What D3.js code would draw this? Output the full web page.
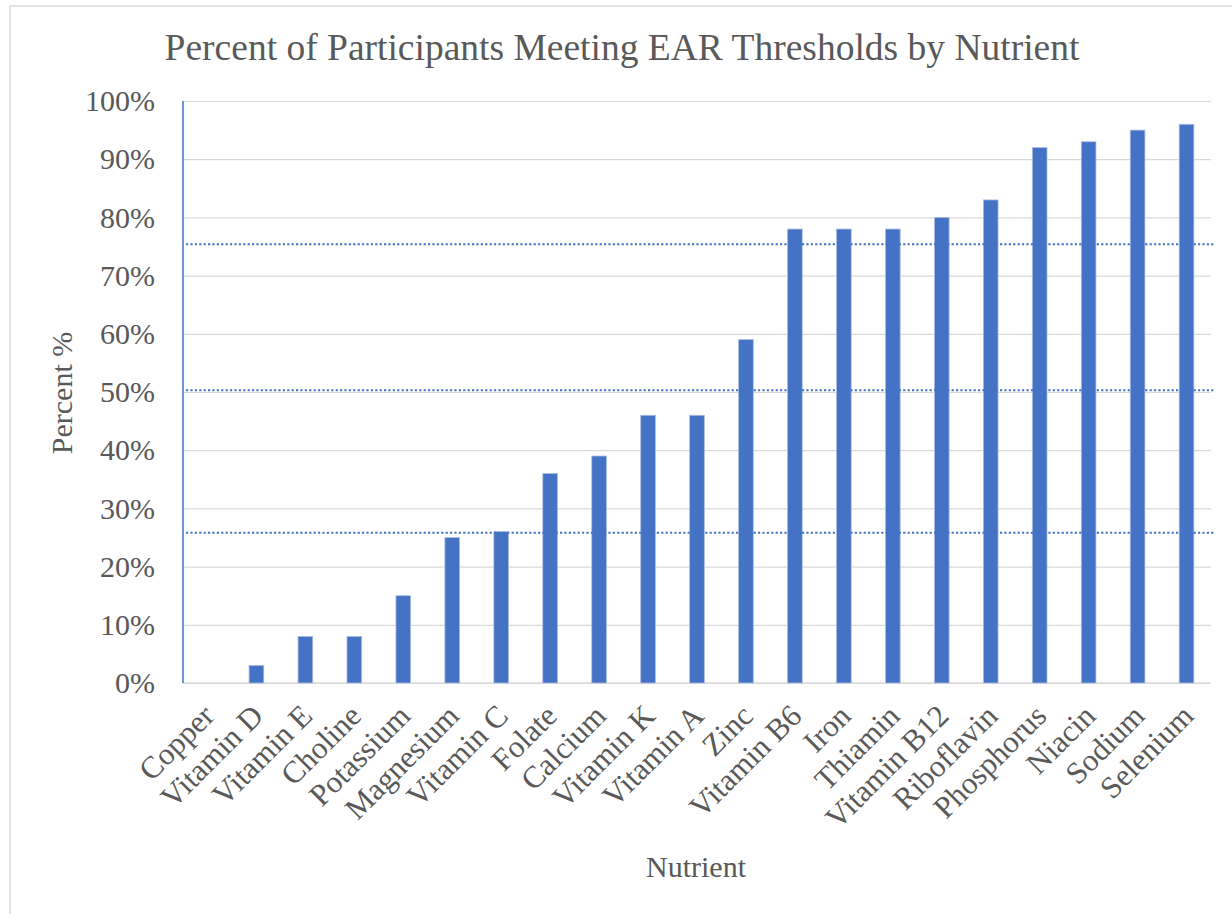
<!DOCTYPE html>
<html>
<head>
<meta charset="utf-8">
<script src="https://cdn.jsdelivr.net/npm/d3@7"></script>
<style>
  html, body { margin: 0; padding: 0; background: #fff; }
  svg { display: block; }
  text { font-family: "Liberation Serif", "Times New Roman", serif; fill: #595959; }
</style>
</head>
<body>
<div id="chart"></div>
<script>
// Percent of participants meeting EAR thresholds, sorted low -> high

const nutrients = ["Copper", "Vitamin D", "Vitamin E", "Choline", "Potassium", "Magnesium",
  "Vitamin C", "Folate", "Calcium", "Vitamin K", "Vitamin A", "Zinc", "Vitamin B6", "Iron",
  "Thiamin", "Vitamin B12", "Riboflavin", "Phosphorus", "Niacin", "Sodium", "Selenium"];
const percents = [0, 3, 8, 8, 15, 25, 26, 36, 39, 46, 46, 59, 78, 78, 78, 80, 83, 92, 93, 95, 96];
const thresholds = [25.8, 50.3, 75.4];   // dotted reference lines
const yTicks = [0, 10, 20, 30, 40, 50, 60, 70, 80, 90, 100];

const width = 1232, height = 914;
const margin = { top: 101, right: 21, bottom: 231, left: 183 };

const svg = d3.select("#chart").append("svg")
  .attr("width", width).attr("height", height);

// outer frame (only top + left edges visible in the source)
svg.append("line").attr("x1", 10).attr("x2", width).attr("y1", 6).attr("y2", 6)
  .attr("stroke", "#d9d9d9").attr("stroke-width", 1.5);
svg.append("line").attr("x1", 10).attr("x2", 10).attr("y1", 6).attr("y2", height)
  .attr("stroke", "#d9d9d9").attr("stroke-width", 1.5);

const x = d3.scaleBand().domain(nutrients)
  .range([margin.left, width - margin.right]).paddingInner(0.7).paddingOuter(0.35);
const y = d3.scaleLinear().domain([0, 100]).range([height - margin.bottom, margin.top]);

// gridlines + y labels
const gY = svg.append("g").attr("transform", `translate(${margin.left},0)`)
  .call(d3.axisLeft(y).tickValues(yTicks).tickFormat(d => d + "%")
    .tickSize(-(width - margin.left - margin.right)).tickPadding(28));
gY.select(".domain").remove();
gY.selectAll(".tick line").attr("stroke", "#d9d9d9").attr("stroke-width", 1.2);
gY.selectAll(".tick text").attr("font-size", 30).style("font-family", "Liberation Serif, serif")
  .attr("fill", "#595959");

// bottom axis line
svg.append("line")
  .attr("x1", margin.left).attr("x2", width - margin.right)
  .attr("y1", y(0)).attr("y2", y(0))
  .attr("stroke", "#d9d9d9").attr("stroke-width", 1.5);

// bars
svg.append("g").selectAll("rect").data(nutrients).join("rect")
  .attr("x", d => x(d))
  .attr("width", x.bandwidth())
  .attr("y", (d, i) => y(percents[i]))
  .attr("height", (d, i) => y(0) - y(percents[i]))
  .attr("fill", "#4472c4")
  .attr("stroke", "#a9bde4").attr("stroke-width", 0.8);

// threshold lines
svg.append("g").selectAll("line").data(thresholds).join("line")
  .attr("x1", margin.left + 3).attr("x2", width - 17)
  .attr("y1", d => y(d)).attr("y2", d => y(d))
  .attr("stroke", "#4472c4").attr("stroke-width", 2).attr("stroke-dasharray", "2.2 2.2");

// left axis line (blue)
svg.append("line")
  .attr("x1", margin.left).attr("x2", margin.left)
  .attr("y1", y(100)).attr("y2", y(0))
  .attr("stroke", "#4472c4").attr("stroke-width", 1.5);

// x category labels, rotated
svg.append("g").selectAll("text").data(nutrients).join("text")
  .attr("transform", d => `translate(${x(d) + x.bandwidth() / 2 + 1},${y(0) + 27}) rotate(-45)`)
  .attr("text-anchor", "end")
  .attr("dy", "0.35em")
  .attr("font-size", 31)
  .text(d => d);

// titles
svg.append("text")
  .attr("x", 622).attr("y", 60).attr("text-anchor", "middle")
  .attr("font-size", 37.5)
  .text("Percent of Participants Meeting EAR Thresholds by Nutrient");

svg.append("text")
  .attr("x", 696).attr("y", 877).attr("text-anchor", "middle")
  .attr("font-size", 30)
  .text("Nutrient");

svg.append("text")
  .attr("transform", `translate(72,393) rotate(-90)`)
  .attr("text-anchor", "middle")
  .attr("font-size", 30)
  .text("Percent %");
</script>
</body>
</html>
